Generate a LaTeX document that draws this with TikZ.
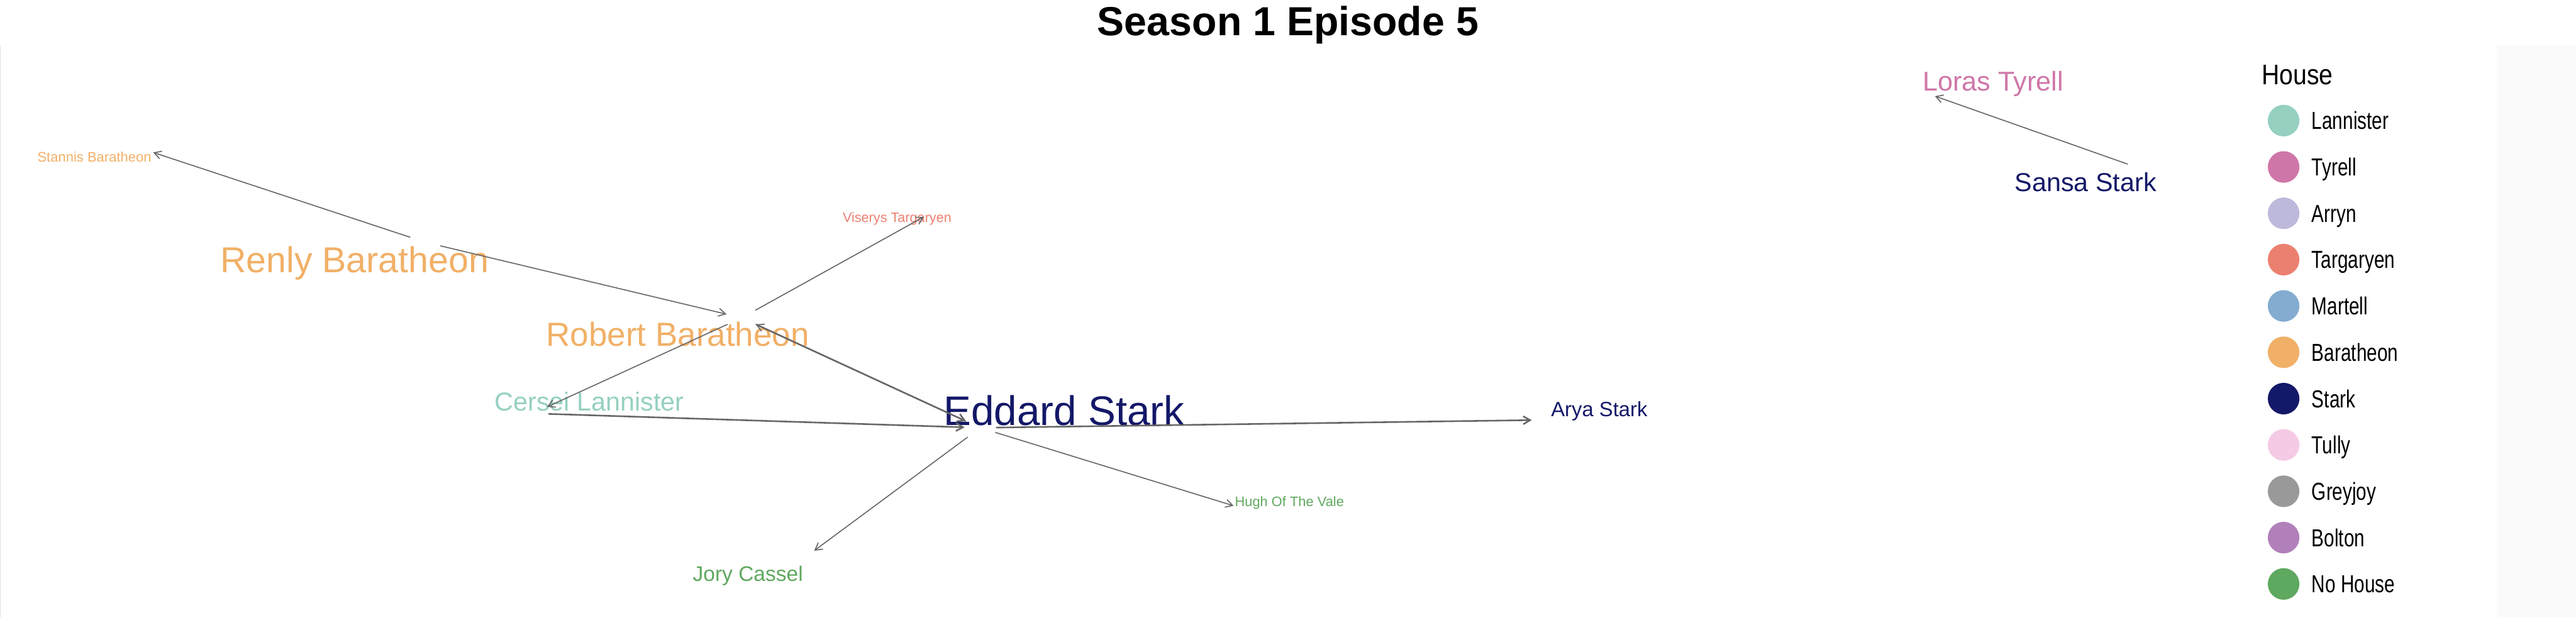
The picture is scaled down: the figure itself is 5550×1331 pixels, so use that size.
\documentclass[tikz,border=0pt]{standalone}
\usepackage{fontspec}
\setmainfont{Liberation Sans}
\newfontfamily\keyfont[FakeStretch=0.76]{Liberation Sans}
\newfontfamily\keyhead[FakeStretch=0.87]{Liberation Sans}
\usetikzlibrary{arrows.meta,positioning}
\newcommand{\fsz}[1]{\fontsize{#1}{#1}\selectfont}

\definecolor{lannister}{RGB}{149,208,193}
\definecolor{tyrell}{RGB}{207,118,168}
\definecolor{arryn}{RGB}{188,185,218}
\definecolor{targaryen}{RGB}{236,128,112}
\definecolor{martell}{RGB}{131,172,208}
\definecolor{baratheon}{RGB}{241,176,103}
\definecolor{stark}{RGB}{20,24,104}
\definecolor{tully}{RGB}{244,202,228}
\definecolor{greyjoy}{RGB}{153,153,153}
\definecolor{bolton}{RGB}{177,128,186}
\definecolor{nohouse}{RGB}{95,168,95}

\begin{document}
\begin{tikzpicture}[x=0.01cm,y=-0.01cm,>={Straight Barb[length=0.15cm,width=0.17cm]}]
  \tikzstyle{pt}=[circle,minimum size=0.66cm,inner sep=0pt]
  \tikzstyle{lbl}=[anchor=base west,inner sep=0pt]
  \tikzstyle{edge}=[->,draw=black!60,line width=0.022cm]
  \tikzstyle{heavy}=[edge,line width=0.035cm]
  \tikzstyle{dot}=[circle,minimum size=0.68cm,inner sep=0pt,outer sep=0pt]
  \tikzstyle{key}=[anchor=west,inner sep=0pt,text height=0.38cm,text depth=0pt,font=\keyfont\fsz{15.08}]

  \useasboundingbox (0,0) rectangle (5550,1331);
  \fill[black!2] (5380,97) rectangle (5550,1331);
  \draw[black!12,line width=0.02cm] (1,97) -- (1,1331);

  \node[anchor=base,inner sep=0pt,font=\bfseries\fsz{24.87}] (title) at (2775,76) {Season 1 Episode 5};

  % where the edges meet
  \node[pt] (eddard) at (2112,922) {};
  \node[pt] (robert) at (1598,685) {};
  \node[pt] (renly) at (916,522) {};
  \node[pt] (stannis) at (298,318) {};
  \node[pt] (viserys) at (2020,451) {};
  \node[pt] (cersei) at (1148,891) {};
  \node[pt] (arya) at (3334,905) {};
  \node[pt] (hugh) at (2690,1100) {};
  \node[pt] (jory) at (1727,1207) {};
  \node[pt] (sansa) at (4616,365) {};
  \node[pt] (loras) at (4137,196) {};

  % names
  \node[lbl,text=baratheon,font=\fsz{8.48}] (stannis-l) at (80,349) {Stannis Baratheon};
  \node[lbl,text=baratheon,font=\fsz{22.08}] (renly-l) at (474,587) {Renly Baratheon};
  \node[lbl,text=targaryen,font=\fsz{8.34}] (viserys-l) at (1815,479) {Viserys Targaryen};
  \node[lbl,text=baratheon,font=\fsz{20.43}] (robert-l) at (1176,746) {Robert Baratheon};
  \node[lbl,text=lannister,font=\fsz{15.93}] (cersei-l) at (1065,885) {Cersei Lannister};
  \node[lbl,text=stark,font=\fsz{25.32}] (eddard-l) at (2032,917) {Eddard Stark};
  \node[lbl,text=stark,font=\fsz{12.66}] (arya-l) at (3341,897) {Arya Stark};
  \node[lbl,text=nohouse,font=\fsz{8.42}] (hugh-l) at (2660,1091) {Hugh Of The Vale};
  \node[lbl,text=nohouse,font=\fsz{12.92}] (jory-l) at (1492,1253) {Jory Cassel};
  \node[lbl,text=tyrell,font=\fsz{16.64}] (loras-l) at (4142,196) {Loras Tyrell};
  \node[lbl,text=stark,font=\fsz{15.93}] (sansa-l) at (4340,412) {Sansa Stark};

  \draw[edge] (renly) -- (stannis);
  \draw[edge] (renly) -- (robert);
  \draw[edge] (robert) -- (viserys);
  \draw[edge] (robert) -- (cersei);
  \draw[heavy] (robert) -- (eddard);
  \draw[edge] (eddard) -- (robert);
  \draw[heavy] (cersei) -- (eddard);
  \draw[heavy] (eddard) -- (arya);
  \draw[edge] (eddard) -- (hugh);
  \draw[edge] (eddard) -- (jory);
  \draw[edge] (sansa) -- (loras);

  % legend
  \node[lbl,font=\keyhead\fsz{17.36}] (house) at (4872,182) {House};
  \node[dot,fill=lannister] (k1) at (4920,260) {};
  \node[dot,fill=tyrell,below=0.318cm of k1] (k2) {};
  \node[dot,fill=arryn,below=0.318cm of k2] (k3) {};
  \node[dot,fill=targaryen,below=0.318cm of k3] (k4) {};
  \node[dot,fill=martell,below=0.318cm of k4] (k5) {};
  \node[dot,fill=baratheon,below=0.318cm of k5] (k6) {};
  \node[dot,fill=stark,below=0.318cm of k6] (k7) {};
  \node[dot,fill=tully,below=0.318cm of k7] (k8) {};
  \node[dot,fill=greyjoy,below=0.318cm of k8] (k9) {};
  \node[dot,fill=bolton,below=0.318cm of k9] (k10) {};
  \node[dot,fill=nohouse,below=0.318cm of k10] (k11) {};
  \node[key,right=0.26cm of k1] (k1-t) {Lannister};
  \node[key,right=0.26cm of k2] (k2-t) {Tyrell};
  \node[key,right=0.26cm of k3] (k3-t) {Arryn};
  \node[key,right=0.26cm of k4] (k4-t) {Targaryen};
  \node[key,right=0.26cm of k5] (k5-t) {Martell};
  \node[key,right=0.26cm of k6] (k6-t) {Baratheon};
  \node[key,right=0.26cm of k7] (k7-t) {Stark};
  \node[key,right=0.26cm of k8] (k8-t) {Tully};
  \node[key,right=0.26cm of k9] (k9-t) {Greyjoy};
  \node[key,right=0.26cm of k10] (k10-t) {Bolton};
  \node[key,right=0.26cm of k11] (k11-t) {No House};
\end{tikzpicture}
\end{document}
